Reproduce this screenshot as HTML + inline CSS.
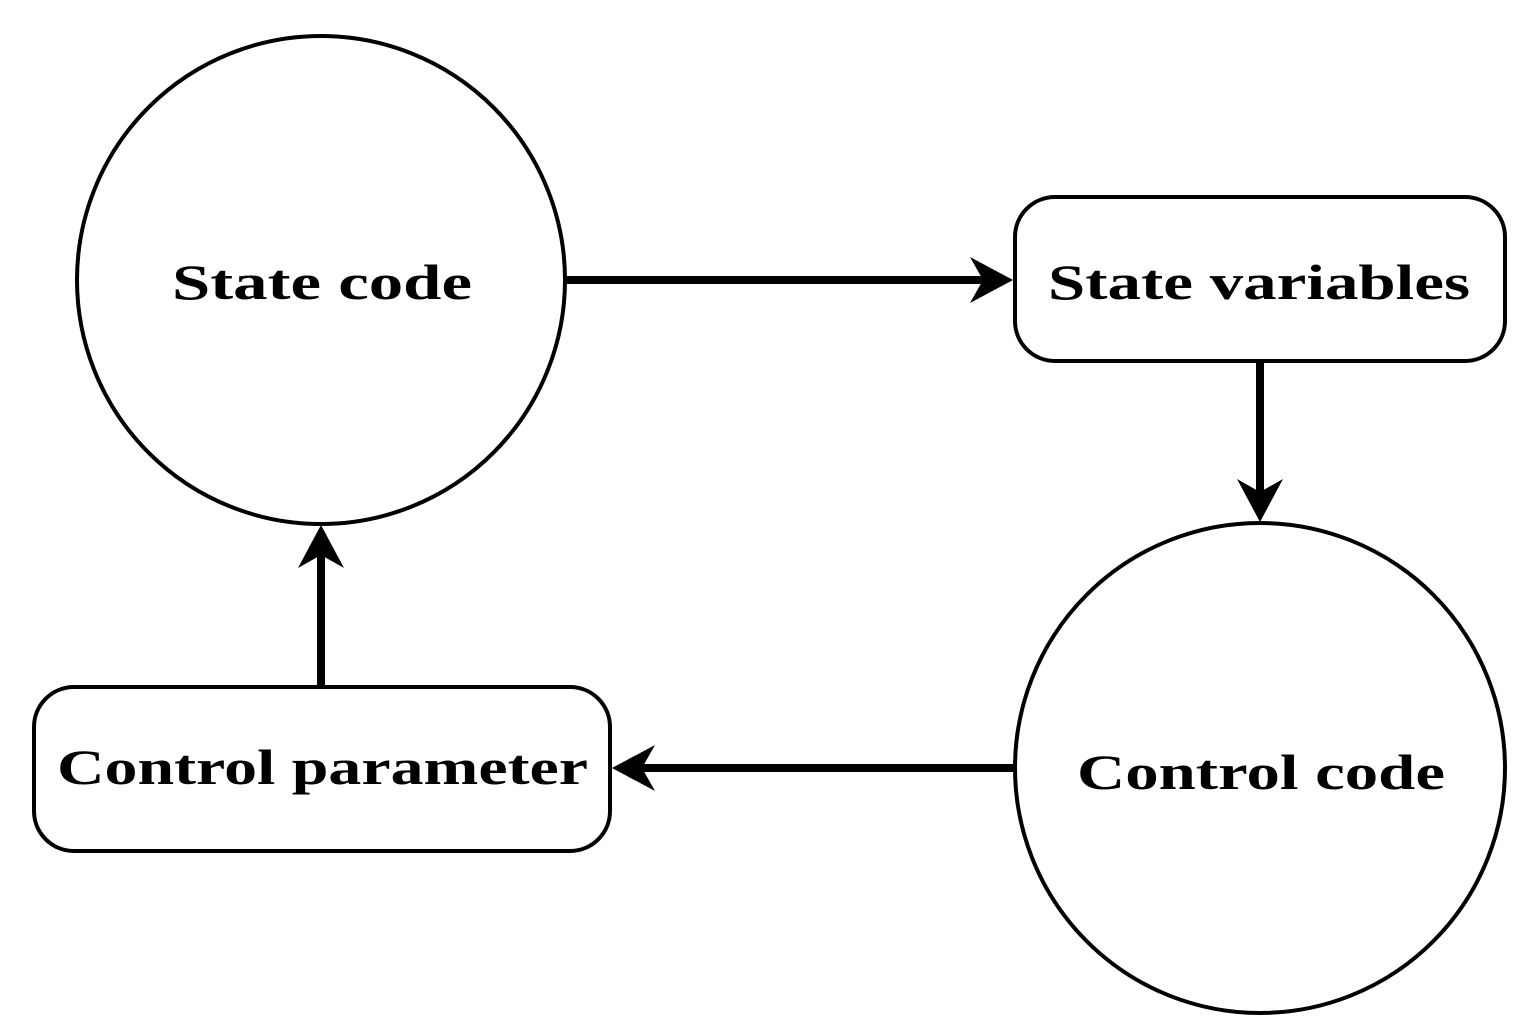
<!DOCTYPE html>
<html><head><style>html,body{margin:0;padding:0;background:#fff}svg{display:block}</style></head>
<body>
<svg width="1539" height="1034" viewBox="0 0 1539 1034" xmlns="http://www.w3.org/2000/svg">
<g fill="none" stroke="#000" stroke-width="4">
<circle cx="321" cy="280" r="244"/>
<circle cx="1260" cy="768" r="245"/>
<rect x="1015" y="197" width="490" height="164" rx="40"/>
<rect x="34" y="687" width="576" height="164" rx="40"/>
</g>
<g stroke="#000" stroke-width="8">
<line x1="565" y1="280" x2="990" y2="280"/>
<line x1="1260" y1="361" x2="1260" y2="500"/>
<line x1="1015" y1="768" x2="635" y2="768"/>
<line x1="321" y1="687" x2="321" y2="546"/>
</g>
<g fill="#000">
<path d="M1013,280 L970,257 L983,280 L970,303 Z"/>
<path d="M1260,522 L1237,479 L1260,492 L1283,479 Z"/>
<path d="M612,768 L655,745 L642,768 L655,791 Z"/>
<path d="M321,525 L298,568 L321,555 L344,568 Z"/>
</g>
<g font-family="Liberation Serif, serif" font-weight="bold" font-size="50" fill="#000">
<text x="172" y="299" textLength="300" lengthAdjust="spacingAndGlyphs">State code</text>
<text x="1048" y="299" textLength="422" lengthAdjust="spacingAndGlyphs">State variables</text>
<text x="57" y="784" textLength="531" lengthAdjust="spacingAndGlyphs">Control parameter</text>
<text x="1077" y="789" textLength="368" lengthAdjust="spacingAndGlyphs">Control code</text>
</g>
</svg>
</body></html>
